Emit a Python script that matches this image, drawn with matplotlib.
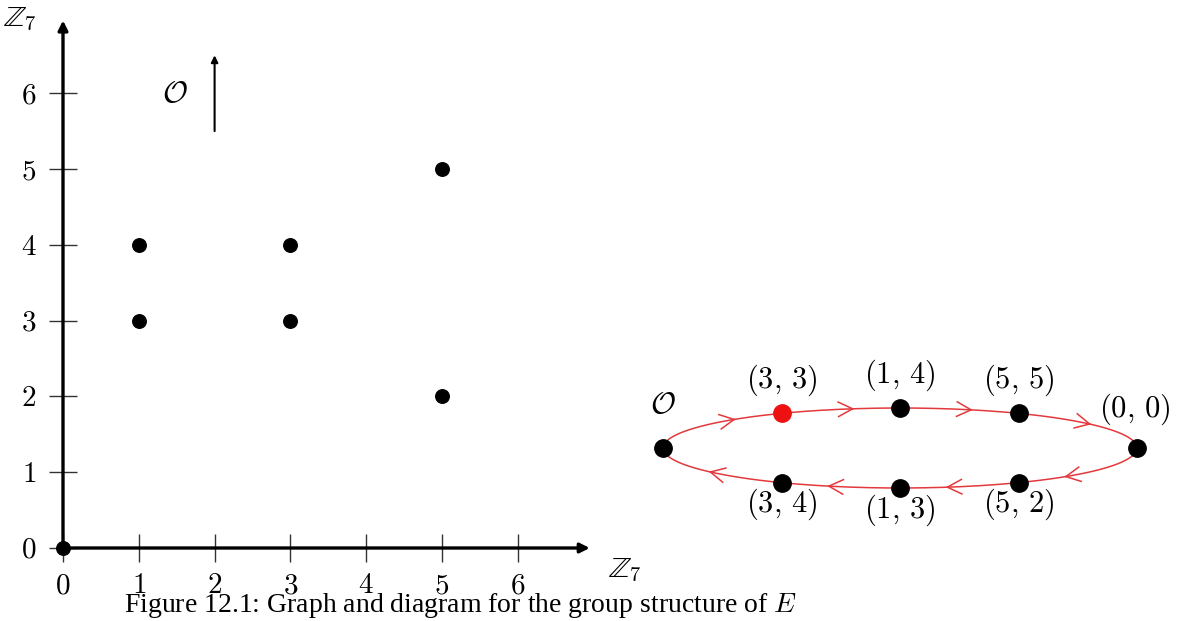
import numpy as np
import matplotlib
matplotlib.use('Agg')
import matplotlib.pyplot as plt

plt.rcParams['mathtext.fontset'] = 'cm'
plt.rcParams['font.family'] = ['Liberation Serif', 'DejaVu Serif']

# affine points of E over Z_7
pt_x = [0, 1, 1, 3, 3, 5, 5]
pt_y = [0, 3, 4, 3, 4, 2, 5]
ticks = [0, 1, 2, 3, 4, 5, 6]

# cyclic group order, generated by (3,3); 'O' is the point at infinity
cycle = ['O', (3, 3), (1, 4), (5, 5), (0, 0), (5, 2), (1, 3), (3, 4)]
generator = (3, 3)

W, H = 1177, 621
fig = plt.figure(figsize=(W / 100, H / 100), dpi=100)

# left: the graph, 1 unit = U pixels, origin at (ox, oy) from top-left
U, ox, oy = 75.8, 63, 548
xlim, ylim = (-0.8, 7.8), (-0.9, 7.2)
ax = fig.add_axes([(ox + xlim[0] * U) / W, (H - oy + ylim[0] * U) / H,
                   (xlim[1] - xlim[0]) * U / W, (ylim[1] - ylim[0]) * U / H])
ax.set_xlim(*xlim)
ax.set_ylim(*ylim)
ax.patch.set_visible(False)
for s in ['left', 'bottom']:
    ax.spines[s].set_position(('data', 0))
    ax.spines[s].set_visible(False)
for s in ['top', 'right']:
    ax.spines[s].set_visible(False)
ax.set_xticks(ticks, labels=[f'${t}$' for t in ticks])
ax.set_yticks(ticks, labels=[f'${t}$' for t in ticks])
ax.tick_params(direction='inout', length=20, width=1, color='#333333', labelsize=21)
ax.tick_params(axis='x', pad=8)
ax.tick_params(axis='y', pad=9)

arrow_kw = dict(arrowstyle='-|>', lw=2.4, color='k', mutation_scale=14, shrinkA=0, shrinkB=0)
ax.annotate('', xy=(6.95, 0), xytext=(0, 0), arrowprops=arrow_kw)
ax.annotate('', xy=(0, 6.96), xytext=(0, 0), arrowprops=arrow_kw)
ax.text(-0.57, 6.97, r'$\mathbb{Z}_7$', fontsize=21, ha='center', va='center')
ax.text(7.41, -0.29, r'$\mathbb{Z}_7$', fontsize=21, ha='center', va='center')

ax.scatter(pt_x, pt_y, s=95, color='k', zorder=5, clip_on=False)

# point at infinity: vertical arrow
ax.annotate('', xy=(2, 6.5), xytext=(2, 5.5),
            arrowprops=dict(arrowstyle='-|>', lw=1.5, color='k', mutation_scale=10,
                            shrinkA=0, shrinkB=0))
ax.text(1.48, 5.98, r'$\mathcal{O}$', fontsize=22, ha='center', va='center')

# right: cycle diagram in pixel coordinates
ax2 = fig.add_axes([0, 0, 1, 1])
ax2.set_xlim(0, W)
ax2.set_ylim(H, 0)
ax2.axis('off')
ax2.patch.set_visible(False)

cx, cy, a, b = 900, 448, 237, 40
red = '#e3393c'


def ell(th):
    return cx + a * np.cos(th), cy - b * np.sin(th)


th = np.linspace(0, 2 * np.pi, 400)
ex, ey = ell(th)
ax2.plot(ex, ey, color=red, lw=1.1)

n = len(cycle)
half = n // 2


def xfrac(k):
    k = k % n
    return -1 + k / half * 2 if k <= half else 3 - k / half * 2


def theta(k_real):
    # position along cycle -> angle, nodes evenly spaced in x
    k0 = int(np.floor(k_real)) % n
    t = k_real - np.floor(k_real)
    x0, x1 = xfrac(k0), xfrac(k0 + 1)
    xf = np.clip(x0 + t * (x1 - x0), -1, 1)
    ang = np.arccos(xf)
    return ang if k0 < half else -ang


# chevron arrowheads between consecutive nodes
L, spread = 16, np.radians(27)
for k in range(n):
    t_ = theta(k + 0.6)
    tx, ty = ell(t_)
    d = np.array([a * np.sin(t_), b * np.cos(t_)])
    d = d / np.hypot(*d)
    for sgn in (1, -1):
        c, s = np.cos(sgn * spread), np.sin(sgn * spread)
        r = np.array([c * d[0] - s * d[1], s * d[0] + c * d[1]])
        ax2.plot([tx, tx - L * r[0]], [ty, ty - L * r[1]], color=red, lw=1.1)

for k, p in enumerate(cycle):
    nx, ny = ell(theta(k))
    col = '#ee1111' if p == generator else 'k'
    ax2.plot(nx, ny, 'o', ms=12.5, color=col, zorder=5)
    if p == 'O':
        lbl, dx, dy = r'$\mathcal{O}$', 0, -42
    else:
        lbl = rf'$({p[0]},\,{p[1]})$'
        if k == half:
            dx, dy = -2, -39
        elif k < half:
            dx, dy = 0, -33
        else:
            dx, dy = 0, 22
    ax2.text(nx + dx, ny + dy, lbl, fontsize=22, ha='center', va='center')

fig.text(460 / W, 1 - 612 / H, 'Figure 12.1: Graph and diagram for the group structure of $E$',
         ha='center', va='baseline', fontsize=20)

fig.savefig('out.png', dpi=100)
